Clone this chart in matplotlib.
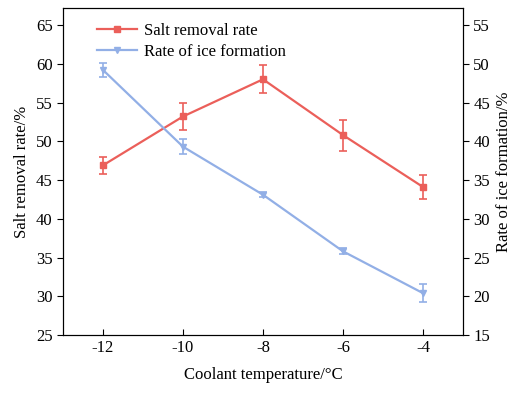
import matplotlib
matplotlib.use("Agg")
import matplotlib.pyplot as plt
from matplotlib.lines import Line2D

temps = [-12, -10, -8, -6, -4]
salt = [46.9, 53.2, 58.0, 50.8, 44.1]
salt_err = [1.1, 1.7, 1.8, 2.0, 1.6]
ice = [49.2, 39.3, 33.1, 25.8, 20.4]
ice_err = [0.9, 1.0, 0.3, 0.4, 1.2]

red = "#EB5F5A"
blue = "#92AFE6"

plt.rcParams['font.family'] = ['Liberation Serif', 'DejaVu Serif']
plt.rcParams['font.size'] = 12

fig = plt.figure(figsize=(5.12, 3.94), dpi=100)
ax = fig.add_axes([63/512, 1-335/394, 400/512, 327/394])
ax2 = ax.twinx()

ax.errorbar(temps, salt, yerr=salt_err, color=red, marker='s', ms=5,
            lw=1.6, capsize=3, elinewidth=1.2, capthick=1.2)
ax2.errorbar(temps, ice, yerr=ice_err, color=blue, marker='v', ms=5,
             lw=1.6, capsize=3, elinewidth=1.2, capthick=1.2)

ax.set_xlim(-13, -3)
ax.set_ylim(25, 67.2)
ax2.set_ylim(15, 57.2)
ax.set_xticks(temps)
ax.set_xticklabels(['-12', '-10', '-8', '-6', '-4'])
ax.set_yticks(range(25, 66, 5))
ax2.set_yticks(range(15, 56, 5))

ax.tick_params(axis='x', direction='in', length=4)
ax.tick_params(axis='y', direction='out', length=4)
ax2.tick_params(axis='y', direction='out', length=4)

ax.set_xlabel('Coolant temperature/°C', labelpad=8)
ax.set_ylabel('Salt removal rate/%')
ax2.set_ylabel('Rate of ice formation/%')

h1 = Line2D([], [], color=red, marker='s', ms=5, lw=1.6)
h2 = Line2D([], [], color=blue, marker='v', ms=5, lw=1.6)
ax.legend([h1, h2], ['Salt removal rate', 'Rate of ice formation'],
          loc='upper left', bbox_to_anchor=(0.06, 0.985), frameon=False,
          handlelength=2.4, handletextpad=0.4, labelspacing=0.3,
          borderaxespad=0.2)

fig.savefig('out.png', dpi=100)
